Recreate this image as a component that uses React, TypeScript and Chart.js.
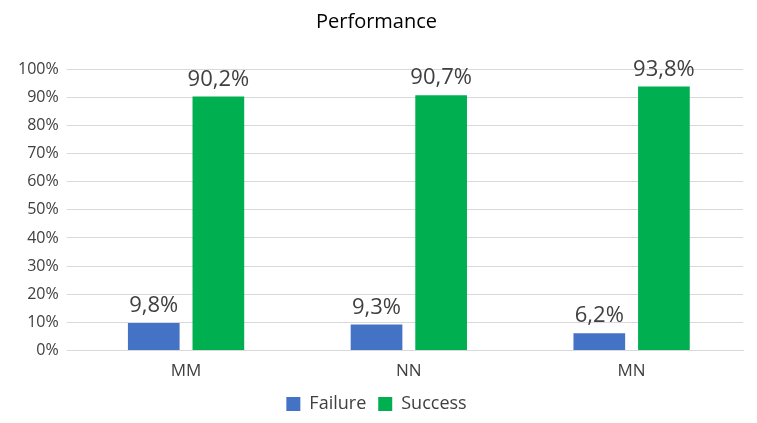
import React, { useEffect, useRef } from 'react';
import { Chart, registerables } from 'chart.js';

Chart.register(...registerables);

const categories = ['MM', 'NN', 'MN'];
const failure = [9.8, 9.3, 6.2];
const success = [90.2, 90.7, 93.8];

const FONT = '"Open Sans", "Liberation Sans", sans-serif';

const valueLabels = {
  id: 'valueLabels',
  afterDatasetsDraw(chart: any) {
    const ctx = chart.ctx;
    ctx.save();
    ctx.font = `22px ${FONT}`;
    ctx.fillStyle = '#404040';
    ctx.textAlign = 'center';
    ctx.textBaseline = 'bottom';
    chart.data.datasets.forEach((ds: any, i: number) => {
      chart.getDatasetMeta(i).data.forEach((bar: any, j: number) => {
        ctx.fillText(ds.data[j].toFixed(1).replace('.', ',') + '%', bar.x, bar.y - 6);
      });
    });
    ctx.restore();
  },
};

export default function App() {
  const chartRef = useRef<HTMLCanvasElement>(null);

  useEffect(() => {
    document.body.style.margin = '0';
    if (!chartRef.current) return;
    const myChart = new Chart(chartRef.current, {
      type: 'bar',
      data: {
        labels: categories,
        datasets: [
          { label: 'Failure', data: failure, backgroundColor: '#4472c4', categoryPercentage: 0.58, barPercentage: 0.8 },
          { label: 'Success', data: success, backgroundColor: '#00b050', categoryPercentage: 0.58, barPercentage: 0.8 },
        ],
      },
      options: {
        responsive: true,
        maintainAspectRatio: false,
        animation: false,
        layout: { padding: { left: 10, right: 14, top: 4, bottom: 0 } },
        plugins: {
          title: {
            display: true,
            text: 'Performance',
            color: '#000',
            font: { family: FONT, size: 20, weight: 'normal' },
            padding: { top: 6, bottom: 35 },
          },
          legend: {
            position: 'bottom',
            labels: { color: '#404040', font: { family: FONT, size: 18 }, boxWidth: 14, boxHeight: 14, padding: 12 },
          },
          tooltip: { enabled: false },
        },
        scales: {
          x: {
            grid: { display: false },
            border: { color: '#d9d9d9' },
            ticks: { color: '#404040', font: { family: FONT, size: 17 }, padding: 2 },
          },
          y: {
            min: 0,
            max: 100,
            ticks: { stepSize: 10, color: '#404040', font: { family: FONT, size: 16 }, padding: 8, callback: (v: any) => v + '%' },
            grid: { color: '#d9d9d9' },
            border: { display: false },
          },
        },
      },
      plugins: [valueLabels],
    });
    return () => myChart.destroy();
  }, []);

  return (
    <div style={{ width: 757, height: 423, position: 'relative', background: '#fff' }}>
      <canvas ref={chartRef}></canvas>
    </div>
  );
}
